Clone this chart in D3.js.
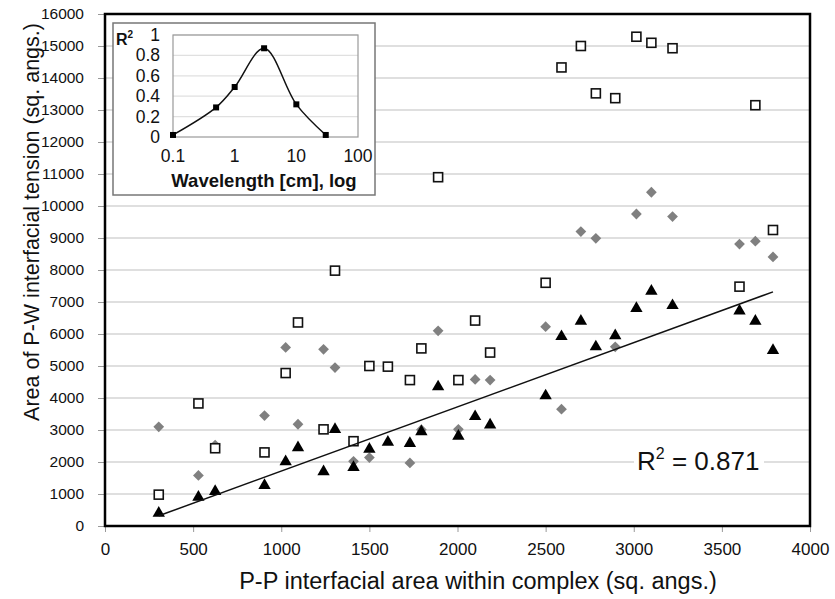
<!DOCTYPE html>
<html>
<head>
<meta charset="utf-8">
<script src="https://cdn.jsdelivr.net/npm/d3@7"></script>
<style>
  body { margin: 0; background: #fff; }
  svg { font-family: "Liberation Sans", Arial, sans-serif; }
</style>
</head>
<body>
<script>
// P-P interfacial area (shared x for the three series)
const area = [305, 530, 625, 905, 1025, 1095, 1240, 1305, 1410, 1500, 1605, 1730, 1795, 1890,
              2005, 2100, 2185, 2500, 2590, 2700, 2785, 2895, 3015, 3100, 3220, 3600, 3690, 3790];
// open squares
const squares = [980, 3830, 2430, 2300, 4780, 6360, 3020, 7980, 2650, 5000, 4980, 4560, 5550, 10900,
                 4560, 6420, 5420, 7600, 14330, 15000, 13520, 13370, 15290, 15100, 14930, 7480, 13150, 9250];
// grey diamonds
const diamonds = [3100, 1580, 2530, 3450, 5580, 3180, 5520, 4950, 2020, 2140, null, 1970, 3010, 6100,
                  3020, 4580, 4560, 6230, 3650, 9200, 8990, 5600, 9750, 10430, 9670, 8810, 8900, 8410];
// black triangles (fitted)
const triangles = [400, 900, 1080, 1270, 2010, 2450, 1700, 3020, 1830, 2400, 2620, 2580, 2950, 4350,
                   2810, 3420, 3160, 4070, 5920, 6400, 5600, 5950, 6800, 7340, 6890, 6720, 6400, 5490];

const xTicks = [0, 500, 1000, 1500, 2000, 2500, 3000, 3500, 4000];
const yTicks = d3.range(0, 16001, 1000);

// inset: R^2 vs wavelength
const wavelength = [0.1, 0.5, 1, 3, 10, 30];
const r2 = [0.02, 0.29, 0.49, 0.87, 0.32, 0.02];
const insetXTicks = [0.1, 1, 10, 100];
const insetYTicks = [0, 0.2, 0.4, 0.6, 0.8, 1];

const W = 835, H = 599;
const svg = d3.select("body").append("svg").attr("width", W).attr("height", H);

const x = d3.scaleLinear().domain([0, 4000]).range([105, 810]);
const y = d3.scaleLinear().domain([0, 16000]).range([526, 14]);

// gridlines
svg.append("g").selectAll("line").data(yTicks.slice(1)).enter().append("line")
  .attr("x1", 105).attr("x2", 810)
  .attr("y1", d => y(d)).attr("y2", d => y(d))
  .attr("stroke", "#d4d4d4").attr("stroke-width", 1.5);

// y axis
const yAxis = svg.append("g").attr("transform", "translate(105,0)")
  .call(d3.axisLeft(y).tickValues(yTicks).tickSize(7).tickPadding(14).tickFormat(d3.format("d")));
yAxis.select(".domain").remove();
yAxis.selectAll(".tick line").attr("stroke", "#999");
yAxis.selectAll("text").attr("font-size", 15.5).attr("fill", "#111")
  .attr("font-family", "Liberation Sans, Arial, sans-serif");

// x axis
const xAxis = svg.append("g").attr("transform", "translate(0,526)")
  .call(d3.axisBottom(x).tickValues(xTicks).tickSize(6).tickPadding(11).tickFormat(d3.format("d")));
xAxis.select(".domain").remove();
xAxis.selectAll(".tick line").attr("stroke", "#999");
xAxis.selectAll("text").attr("font-size", 17).attr("fill", "#111")
  .attr("font-family", "Liberation Sans, Arial, sans-serif");

// plot frame
svg.append("rect").attr("x", 105).attr("y", 14).attr("width", 705).attr("height", 512)
  .attr("fill", "none").attr("stroke", "#000").attr("stroke-width", 2.5);

// axis titles
svg.append("text").attr("transform", "translate(39,222) rotate(-90)")
  .attr("text-anchor", "middle").attr("font-size", 21.5).attr("fill", "#111")
  .text("Area of P-W interfacial tension (sq. angs.)");
svg.append("text").attr("x", 478).attr("y", 589)
  .attr("text-anchor", "middle").attr("font-size", 23.5).attr("fill", "#111")
  .text("P-P interfacial area within complex (sq. angs.)");

// series
const pts = (vals) => area.map((a, i) => ({ x: a, y: vals[i] })).filter(d => d.y != null);

svg.append("g").selectAll("path").data(pts(diamonds)).enter().append("path")
  .attr("d", d3.symbol(d3.symbolSquare, 58))
  .attr("transform", d => `translate(${x(d.x)},${y(d.y)}) rotate(45)`)
  .attr("fill", "#808080");

svg.append("g").selectAll("rect").data(pts(squares)).enter().append("rect")
  .attr("x", d => x(d.x) - 4.5).attr("y", d => y(d.y) - 4.5)
  .attr("width", 9).attr("height", 9)
  .attr("fill", "#fff").attr("stroke", "#111").attr("stroke-width", 1.6);

svg.append("g").selectAll("path").data(pts(triangles)).enter().append("path")
  .attr("d", d3.symbol(d3.symbolTriangle, 66))
  .attr("transform", d => `translate(${x(d.x)},${y(d.y)})`)
  .attr("fill", "#000");

// linear fit of the triangle series
const tp = pts(triangles);
const mx = d3.mean(tp, d => d.x), my = d3.mean(tp, d => d.y);
const slope = d3.sum(tp, d => (d.x - mx) * (d.y - my)) / d3.sum(tp, d => (d.x - mx) ** 2);
const icpt = my - slope * mx;
const xr = d3.extent(tp, d => d.x);
svg.append("line")
  .attr("x1", x(xr[0])).attr("y1", y(icpt + slope * xr[0]))
  .attr("x2", x(xr[1])).attr("y2", y(icpt + slope * xr[1]))
  .attr("stroke", "#111").attr("stroke-width", 1.5);

// R^2 label
svg.append("rect").attr("x", 634).attr("y", 445).attr("width", 130).attr("height", 30).attr("fill", "#fff");
const rt = svg.append("text").attr("x", 637).attr("y", 470).attr("font-size", 26).attr("fill", "#111");
rt.append("tspan").text("R");
rt.append("tspan").attr("font-size", 16).attr("dy", -11).text("2");
rt.append("tspan").attr("dy", 11).text(" = 0.871");

// inset
const inset = svg.append("g");
inset.append("rect").attr("x", 113).attr("y", 23).attr("width", 262).attr("height", 172)
  .attr("fill", "#fff").attr("stroke", "#777").attr("stroke-width", 1.5);

const ix = d3.scaleLog().domain([0.1, 100]).range([173, 358]);
const iy = d3.scaleLinear().domain([0, 1]).range([137, 35]);

inset.append("g").selectAll("line").data(insetYTicks.slice(1)).enter().append("line")
  .attr("x1", 173).attr("x2", 358).attr("y1", d => iy(d)).attr("y2", d => iy(d))
  .attr("stroke", "#e0e0e0").attr("stroke-width", 1.2);
inset.append("rect").attr("x", 173).attr("y", 35).attr("width", 185).attr("height", 102)
  .attr("fill", "none").attr("stroke", "#999").attr("stroke-width", 1.2);

inset.append("g").selectAll("text").data(insetYTicks).enter().append("text")
  .attr("x", 160).attr("y", d => iy(d) + 6).attr("text-anchor", "end")
  .attr("font-size", 17.5).attr("fill", "#111").text(d => d);
inset.append("g").selectAll("text").data(insetXTicks).enter().append("text")
  .attr("x", d => ix(d)).attr("y", 162).attr("text-anchor", "middle")
  .attr("font-size", 17.5).attr("fill", "#111").text(d => d);

const r2t = inset.append("text").attr("x", 116).attr("y", 45).attr("font-size", 16)
  .attr("font-weight", "bold").attr("fill", "#111");
r2t.append("tspan").text("R");
r2t.append("tspan").attr("font-size", 10).attr("dy", -7).text("2");

inset.append("text").attr("x", 264).attr("y", 187).attr("text-anchor", "middle")
  .attr("font-size", 18.5).attr("font-weight", "bold").attr("fill", "#111")
  .text("Wavelength [cm], log");

const ipts = wavelength.map((w, i) => [ix(w), iy(r2[i])]);
inset.append("path").attr("d", d3.line().curve(d3.curveCatmullRom.alpha(0.5))(ipts))
  .attr("fill", "none").attr("stroke", "#111").attr("stroke-width", 1.5);
inset.append("g").selectAll("rect").data(ipts).enter().append("rect")
  .attr("x", d => d[0] - 3).attr("y", d => d[1] - 3).attr("width", 6).attr("height", 6)
  .attr("fill", "#000");
</script>
</body>
</html>
